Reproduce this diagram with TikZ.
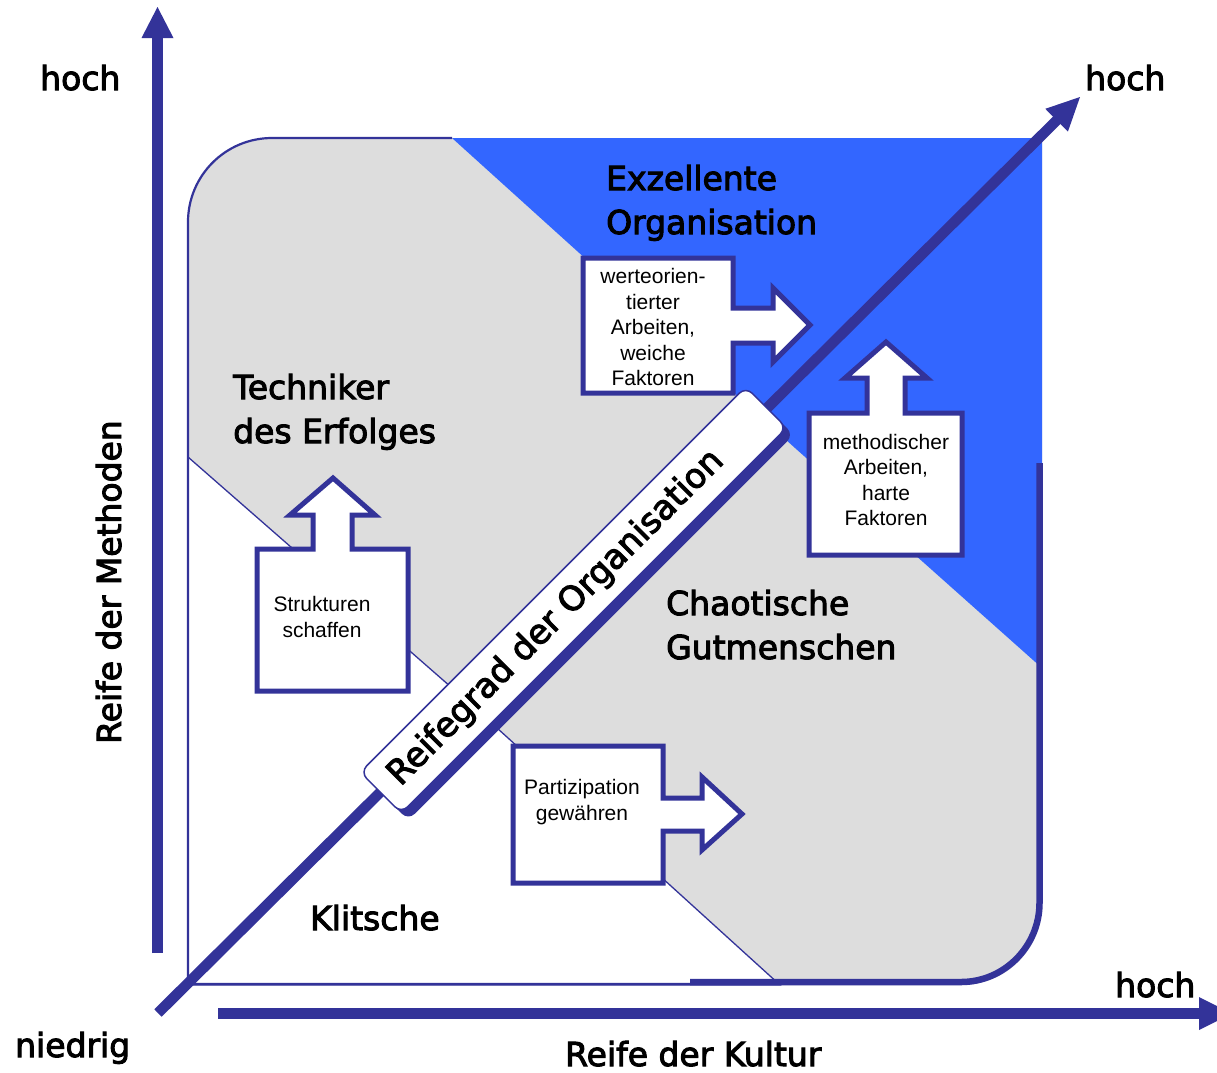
\documentclass[tikz,border=0pt]{standalone}
\usepackage{fontspec}
\setmainfont{Liberation Sans}
\newfontfamily\labelfont{DejaVu Sans}[FakeBold=3]
\definecolor{navy}{HTML}{333399}
\definecolor{brightblue}{HTML}{3366FF}
\definecolor{fieldgray}{HTML}{DDDDDD}
\begin{document}
\begin{tikzpicture}[x=1pt,y=-1pt,
  arrowbox/.style={draw=navy, line width=5pt, fill=white, line join=miter},
  boxtext/.style={align=center, font=\fontsize{21}{25.5}\selectfont, inner sep=0pt, text=black},
  biglabel/.style={font=\labelfont\fontsize{33}{44}\selectfont, inner sep=0pt, anchor=base west, align=left},
  axisshaft/.style={draw=navy, line width=10.5pt},
  thinrule/.style={draw=navy, line width=1.3pt},
  barshape/.style={rotate=45, minimum width=545pt, minimum height=58pt, rounded corners=9pt, inner sep=0pt},
]
\clip (0,0) rectangle (1217,1072);
\fill[white] (0,0) rectangle (1217,1072);

% field
\fill[fieldgray] (188,985) -- (188,222) .. controls (188,175.6) and (225.6,138) .. (272,138) -- (1042,138) -- (1042,905) .. controls (1042,949.2) and (1006.2,985) .. (962,985) -- cycle;
\fill[brightblue] (452,138) -- (1042,138) -- (1042,668) -- (795,448) -- cycle;
\filldraw[fill=white, thinrule] (188,457) -- (475,708) -- (780,985) -- (188,985) -- cycle;
\draw[navy, line width=2.2pt] (690,984) -- (188,984) -- (188,222) .. controls (188,175.6) and (225.6,138) .. (272,138) -- (452,138);
\draw[navy, line width=6.5pt] (1039.5,463) -- (1039.5,903) .. controls (1039.5,946) and (1004.5,982) .. (961,982) -- (690,982);

% axes
\coordinate (vstart) at (157.5,953);
\coordinate (vbase) at (157.5,37);
\coordinate (vtip) at (157.5,7);
\draw[axisshaft] (vstart) -- (vbase);
\fill[navy] (141.5,38) -- (173.5,38) -- (vtip) -- cycle;

\coordinate (hstart) at (218,1013.5);
\coordinate (hbase) at (1200,1013.5);
\coordinate (htip) at (1232,1013.5);
\draw[axisshaft] (hstart) -- (hbase);
\fill[navy] (1199,997) -- (1199,1030) -- (htip) -- cycle;

\coordinate (dstart) at (158,1013);
\coordinate (dbase) at (1057,120);
\coordinate (dtip) at (1080,97);
\draw[axisshaft] (dstart) -- (dbase);
\fill[navy] (1045.3,108.8) -- (1067.9,131.6) -- (dtip) -- cycle;

% maturity bar
\node[barshape, fill=navy] (barshadow) at (580.5,607) {};
\node[barshape, fill=white, draw=navy, line width=1.5pt] (bar) at (573.5,600) {};
\node[rotate=45, inner sep=0pt, font=\labelfont\fontsize{34}{40}\selectfont] (bartext) at (556,618) {Reifegrad der Organisation};

% arrow boxes
\draw[arrowbox] (583,258) -- (733,258) -- (733,308) -- (773,308) -- (773,288) -- (810,325) -- (773,362) -- (773,343) -- (733,343) -- (733,393) -- (583,393) -- cycle;
\draw[arrowbox] (809,413) -- (867,413) -- (867,378) -- (845,378) -- (886,342) -- (927,378) -- (905,378) -- (905,413) -- (962,413) -- (962,555) -- (809,555) -- cycle;
\draw[arrowbox] (257,549) -- (313,549) -- (313,515) -- (290,515) -- (333,478) -- (375,515) -- (352,515) -- (352,549) -- (408,549) -- (408,691) -- (257,691) -- cycle;
\draw[arrowbox] (513,746) -- (663,746) -- (663,798) -- (702,798) -- (702,777) -- (742,814) -- (702,850) -- (702,831) -- (663,831) -- (663,883) -- (513,883) -- cycle;

\node[boxtext] (werte) at (653,327) {werteorien-\\tierter\\Arbeiten,\\weiche\\Faktoren};
\node[boxtext] (method) at (886,480) {methodischer\\Arbeiten,\\harte\\Faktoren};
\node[boxtext] (struktur) at (322,617) {Strukturen\\schaffen};
\node[boxtext] (partizip) at (582,802) {Partizipation\\gewähren};

% region labels (anchor = baseline of last line)
\node[biglabel] (exzellent) at (606,234) {Exzellente\\Organisation};
\node[biglabel] (techniker) at (233,443) {Techniker\\des Erfolges};
\node[biglabel] (chaotisch) at (666,659) {Chaotische\\Gutmenschen};
\node[biglabel] (klitsche) at (310,930) {Klitsche};

% axis labels
\node[biglabel] (hochV) at (40,90) {hoch};
\node[biglabel] (hochD) at (1085,90) {hoch};
\node[biglabel] (hochH) at (1115,997) {hoch};
\node[biglabel] (niedrig) at (15,1057) {niedrig};
\node[biglabel] (kultur) at (565,1066) {Reife der Kultur};
\node[font=\labelfont\fontsize{33}{44}\selectfont, inner sep=0pt, rotate=90, anchor=base] (methoden) at (121,582) {Reife der Methoden};
\end{tikzpicture}
\end{document}
